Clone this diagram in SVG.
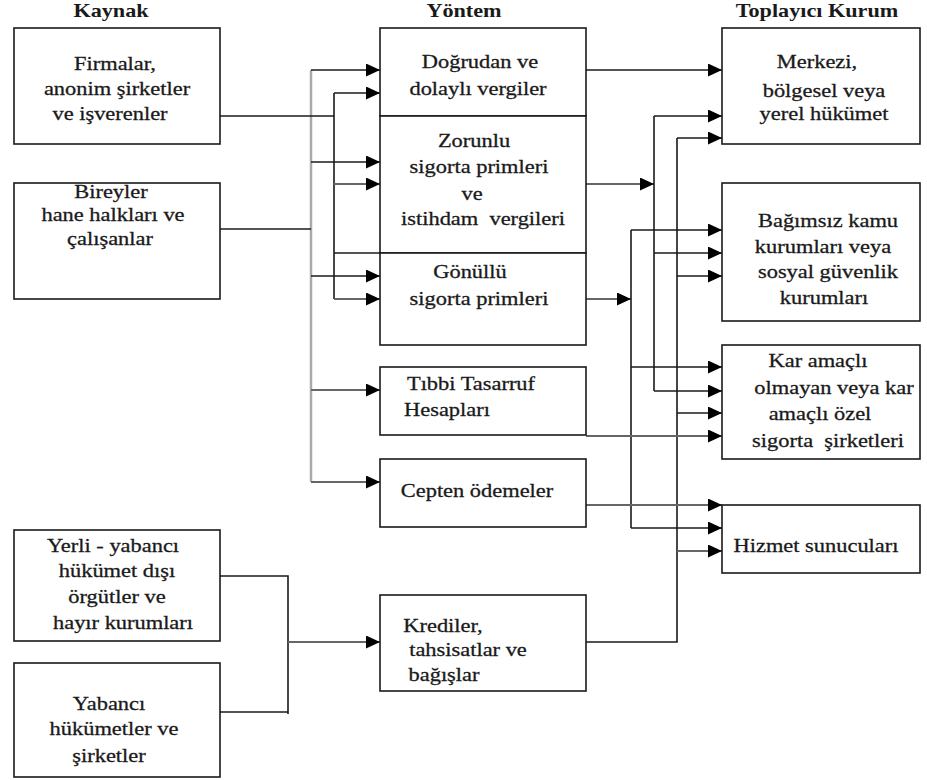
<svg xmlns="http://www.w3.org/2000/svg" width="927" height="780" viewBox="0 0 927 780">
<style>
.bg{fill:#fff}
.box{fill:#fff;stroke:#1a1a1a;stroke-width:1.6}
.t{font-size:19.5px;fill:#1a1a1a;stroke:#1a1a1a;stroke-width:0.3;text-anchor:middle;white-space:pre}
.h{font-size:18.5px;font-weight:bold;fill:#1a1a1a;text-anchor:middle}
.c{fill:none;stroke:#1a1a1a;stroke-width:1.6}
.g{fill:none;stroke:#666;stroke-width:1.8}
.lg{fill:none;stroke:#aaa;stroke-width:2.5}
.a{marker-end:url(#ah)}
</style>
<defs>
<marker id="ah" markerUnits="userSpaceOnUse" viewBox="0 0 14 13" refX="14" refY="6.5" markerWidth="14" markerHeight="13" orient="auto">
<path d="M0,0 L14,6.5 L0,13 z" fill="#000"/>
</marker>
</defs>
<rect class="bg" x="0" y="0" width="927" height="780"/>

<g id="headers" font-family="Liberation Serif, serif">
<text class="h" transform="translate(111,17) scale(1.2,1)">Kaynak</text>
<text class="h" transform="translate(464,17) scale(1.2,1)">Yöntem</text>
<text class="h" transform="translate(817,17) scale(1.2,1)">Toplayıcı Kurum</text>
</g>

<g id="connectors">
<path class="lg" d="M311,70 V482"/>
<path class="c" d="M220,116 H334"/>
<path class="c" d="M334,93 V299"/>
<path class="c" d="M220,229 H311"/>
<path class="c" d="M334,253 H380"/>
<path class="c a" d="M311,70 H380"/>
<path class="c a" d="M334,93 H380"/>
<path class="c a" d="M311,162 H380"/>
<path class="g a" d="M334,184 H380"/>
<path class="c a" d="M311,276 H380"/>
<path class="g a" d="M334,299 H380"/>
<path class="g a" d="M311,390 H380"/>
<path class="g a" d="M311,482 H380"/>

<path class="c a" d="M586,70 H722"/>
<path class="g a" d="M586,184 H654"/>
<path class="c" d="M654,116 V391"/>
<path class="c a" d="M654,116 H722"/>
<path class="c a" d="M654,253 H722"/>
<path class="c a" d="M654,391 H722"/>
<path class="g a" d="M586,299 H631"/>
<path class="c" d="M631,230 V528"/>
<path class="c a" d="M631,230 H722"/>
<path class="c a" d="M631,367 H722"/>
<path class="c a" d="M631,528 H722"/>
<path class="c" d="M586,642 H677 V138"/>
<path class="c a" d="M677,138 H722"/>
<path class="c a" d="M677,276 H722"/>
<path class="c a" d="M677,413 H722"/>
<path class="g a" d="M677,551 H722"/>
<path class="g a" d="M586,436 H722"/>
<path class="g a" d="M586,505 H722"/>

<path class="c" d="M220,576 H288 V714"/>
<path class="c" d="M220,712 H288"/>
<path class="g a" d="M288,642 H380"/>
</g>

<g id="nodes" font-family="Liberation Serif, serif">
<g id="firmalar">
<rect class="box" x="14" y="28" width="206" height="116"/>
<text class="t" transform="translate(115,70) scale(1.15,1)">Firmalar,</text>
<text class="t" transform="translate(117,95) scale(1.15,1)">anonim şirketler</text>
<text class="t" transform="translate(110,120) scale(1.15,1)">ve işverenler</text>
</g>
<g id="bireyler">
<rect class="box" x="14" y="183" width="206" height="116"/>
<text class="t" transform="translate(111,198) scale(1.15,1)">Bireyler</text>
<text class="t" transform="translate(113,221) scale(1.15,1)">hane halkları ve</text>
<text class="t" transform="translate(110,245) scale(1.15,1)">çalışanlar</text>
</g>
<g id="yerli">
<rect class="box" x="14" y="530" width="206" height="111"/>
<text class="t" transform="translate(113,552) scale(1.15,1)">Yerli - yabancı</text>
<text class="t" transform="translate(117,577) scale(1.15,1)">hükümet dışı</text>
<text class="t" transform="translate(117,603) scale(1.15,1)">örgütler ve</text>
<text class="t" transform="translate(123,629) scale(1.15,1)">hayır kurumları</text>
</g>
<g id="yabanci">
<rect class="box" x="14" y="663" width="206" height="114"/>
<text class="t" transform="translate(109,710) scale(1.15,1)">Yabancı</text>
<text class="t" transform="translate(114,735) scale(1.15,1)">hükümetler ve</text>
<text class="t" transform="translate(109,762) scale(1.15,1)">şirketler</text>
</g>

<g id="dogrudan">
<rect class="box" x="380" y="28" width="206" height="88"/>
<text class="t" transform="translate(480,68) scale(1.15,1)">Doğrudan ve</text>
<text class="t" transform="translate(478,95) scale(1.15,1)">dolaylı vergiler</text>
</g>
<g id="zorunlu">
<rect class="box" x="380" y="116" width="206" height="137"/>
<text class="t" transform="translate(474,147) scale(1.15,1)">Zorunlu</text>
<text class="t" transform="translate(479,173) scale(1.15,1)">sigorta primleri</text>
<text class="t" transform="translate(472,200) scale(1.15,1)">ve</text>
<text class="t" transform="translate(483,225) scale(1.15,1)">istihdam  vergileri</text>
</g>
<g id="gonullu">
<rect class="box" x="380" y="253" width="206" height="92"/>
<text class="t" transform="translate(470,278) scale(1.15,1)">Gönüllü</text>
<text class="t" transform="translate(479,305) scale(1.15,1)">sigorta primleri</text>
</g>
<g id="tibbi">
<rect class="box" x="380" y="367" width="206" height="68"/>
<text class="t" transform="translate(471,390) scale(1.15,1)">Tıbbi Tasarruf</text>
<text class="t" transform="translate(447,416) scale(1.15,1)">Hesapları</text>
</g>
<g id="cepten">
<rect class="box" x="380" y="459" width="206" height="68"/>
<text class="t" transform="translate(477,497) scale(1.15,1)">Cepten ödemeler</text>
</g>
<g id="krediler">
<rect class="box" x="380" y="595" width="206" height="96"/>
<text class="t" transform="translate(443,632) scale(1.15,1)">Krediler,</text>
<text class="t" transform="translate(468,656) scale(1.15,1)">tahsisatlar ve</text>
<text class="t" transform="translate(444,681) scale(1.15,1)">bağışlar</text>
</g>

<g id="merkezi">
<rect class="box" x="722" y="28" width="198" height="116"/>
<text class="t" transform="translate(817,68) scale(1.15,1)">Merkezi,</text>
<text class="t" transform="translate(824,97) scale(1.15,1)">bölgesel veya</text>
<text class="t" transform="translate(824,120) scale(1.15,1)">yerel hükümet</text>
</g>
<g id="bagimsiz">
<rect class="box" x="722" y="183" width="198" height="138"/>
<text class="t" transform="translate(828,227) scale(1.15,1)">Bağımsız kamu</text>
<text class="t" transform="translate(823,253) scale(1.15,1)">kurumları veya</text>
<text class="t" transform="translate(828,278) scale(1.15,1)">sosyal güvenlik</text>
<text class="t" transform="translate(824,304) scale(1.15,1)">kurumları</text>
</g>
<g id="karamacli">
<rect class="box" x="722" y="345" width="198" height="114"/>
<text class="t" transform="translate(818,367) scale(1.15,1)">Kar amaçlı</text>
<text class="t" transform="translate(834,394) scale(1.15,1)">olmayan veya kar</text>
<text class="t" transform="translate(820,420) scale(1.15,1)">amaçlı özel</text>
<text class="t" transform="translate(828,447) scale(1.15,1)">sigorta  şirketleri</text>
</g>
<g id="hizmet">
<rect class="box" x="722" y="505" width="198" height="68"/>
<text class="t" transform="translate(816,552) scale(1.15,1)">Hizmet sunucuları</text>
</g>
</g>
</svg>
